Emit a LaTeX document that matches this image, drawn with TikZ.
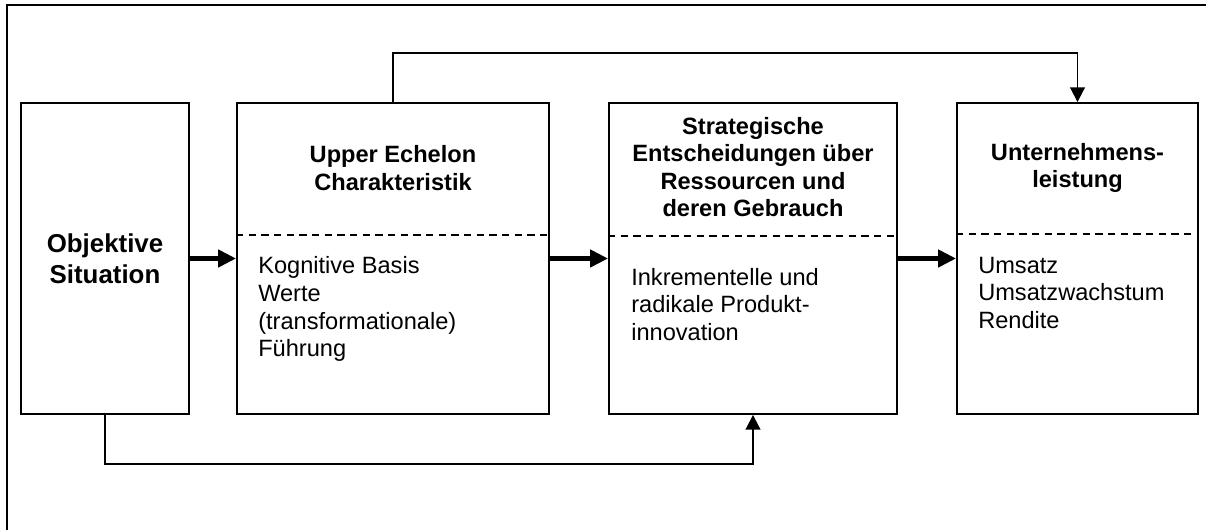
\documentclass[tikz,border=0pt]{standalone}
\usepackage{fontspec}
\setmainfont{Liberation Sans}
\usetikzlibrary{arrows.meta}
\begin{document}
\begin{tikzpicture}[x=0.75pt,y=-0.75pt,
  box/.style={draw, line width=1.4pt, minimum height=233.25pt, inner sep=0pt},
  title/.style={font=\fontsize{17.7pt}{20.7pt}\selectfont\bfseries, align=center, inner sep=0pt},
  body/.style={font=\fontsize{17.7pt}{20.7pt}\selectfont, align=left, anchor=north west, inner sep=0pt},
  divider/.style={line width=1.1pt, dash pattern=on 5.5pt off 4pt},
  flow/.style={line width=3.6pt, -{Triangle[length=13.5pt,width=12.75pt]}},
  link/.style={line width=1.4pt, -{Triangle[length=11pt,width=11pt]}},
  frame/.style={line width=1.5pt}]
\useasboundingbox (0,0) rectangle (1206,530);
% open frame: top and left edges only
\draw[frame] (7,530) -- (7,5) -- (1206,5);

% the four stages
\node[box, minimum width=126pt, align=center,
      font=\fontsize{19.4pt}{23.25pt}\selectfont\bfseries] (b1) at (105,258.5) {Objektive\\Situation};
\node[box, minimum width=234pt] (b2) at (393,258.5) {};
\node[box, minimum width=216pt] (b3) at (753,258.5) {};
\node[box, minimum width=180.75pt] (b4) at (1077.5,258.5) {};

% headings
\node[title] (t2) at (393,168) {Upper Echelon\\Charakteristik};
\node[title] (t3) at (753,167) {Strategische\\Entscheidungen über\\Ressourcen und\\deren Gebrauch};
\node[title] (t4) at (1077.5,168) {Unternehmens-\\leistung};

% dashed separators
\draw[divider] (b2.west |- 0,235) -- (b2.east |- 0,235);
\draw[divider] (b3.west |- 0,236) -- (b3.east |- 0,236);
\draw[divider] (b4.west |- 0,234) -- (b4.east |- 0,234);

% details
\node[body] (l2) at (258,256.5) {Kognitive Basis\\Werte\\(transformationale)\\Führung};
\node[body] (l3) at (631,268) {Inkrementelle und\\radikale Produkt-\\innovation};
\node[body] (l4) at (978,256.5) {Umsatz\\Umsatzwachstum\\Rendite};

% main flow
\draw[flow] (b1.east) -- (b2.west);
\draw[flow] (b2.east) -- (b3.west);
\draw[flow] (b3.east) -- (b4.west);

% bypass links
\draw[link] (b2.north) -- ++(0,-49) -| (b4.north);
\draw[link] (b1.south) -- ++(0,49) -| (b3.south);
\end{tikzpicture}
\end{document}
